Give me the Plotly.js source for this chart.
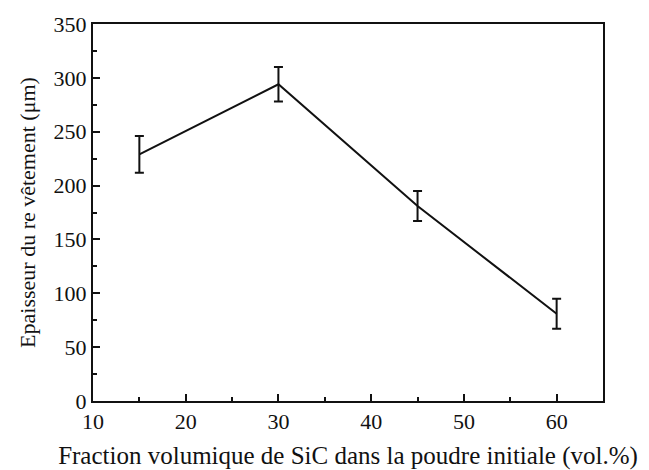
<!DOCTYPE html>
<html>
<head>
<meta charset="utf-8">
<script src="https://cdn.plot.ly/plotly-3.0.1.min.js"></script>
<style>html,body{margin:0;padding:0;background:#fff;}#chart{width:649px;height:470px;}</style>
</head>
<body>
<div id="chart"></div>
<script>
const fractionSiC = [15, 30, 45, 60];
const epaisseur = [229, 294, 181, 81];
const erreur = [17, 16, 14, 14];
const xTitle = "Fraction volumique de SiC dans la poudre initiale (vol.%)";
const yTitle = "Epaisseur du re vêtement (μm)";

const font = "Liberation Serif, Times New Roman, serif";
const trace = {
  x: fractionSiC,
  y: epaisseur,
  type: "scatter",
  mode: "lines",
  line: {color: "#111", width: 2},
  error_y: {type: "data", array: erreur, visible: true, color: "#111", thickness: 2, width: 4.5}
};
const axisCommon = {
  showline: true, linecolor: "#111", linewidth: 2, mirror: true,
  ticks: "inside", ticklen: 7, tickwidth: 2, tickcolor: "#111",
  showgrid: false, zeroline: false,
  tickfont: {family: font, size: 22, color: "#111"}
};
const layout = {
  width: 649, height: 470,
  margin: {l: 93, r: 46, t: 24, b: 69},
  paper_bgcolor: "#fff", plot_bgcolor: "#fff",
  showlegend: false,
  font: {family: font},
  xaxis: Object.assign({}, axisCommon, {
    range: [10, 65], dtick: 10, tick0: 10,
    minor: {ticks: "inside", dtick: 5, tick0: 10, ticklen: 4, tickwidth: 2, tickcolor: "#111"},
    title: {text: xTitle, font: {family: font, size: 25, color: "#111"}, standoff: 13}
  }),
  yaxis: Object.assign({}, axisCommon, {
    range: [0, 350], dtick: 50,
    minor: {ticks: "inside", dtick: 25, tick0: 0, ticklen: 4, tickwidth: 2, tickcolor: "#111"},
    title: {text: yTitle, font: {family: font, size: 22, color: "#111"}, standoff: 12}
  })
};
Plotly.newPlot("chart", [trace], layout, {displayModeBar: false, staticPlot: true});
</script>
</body>
</html>
